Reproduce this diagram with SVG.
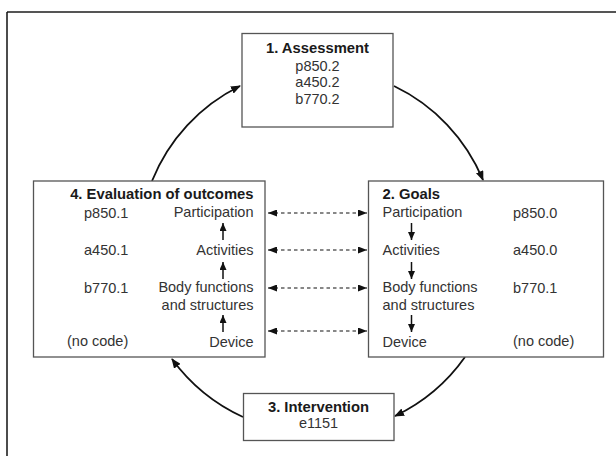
<svg xmlns="http://www.w3.org/2000/svg" width="616" height="456" viewBox="0 0 616 456">
  <style>
    text { font-family: "Liberation Sans", Arial, sans-serif; font-size: 14.5px; fill: #333; }
    .b { font-weight: bold; fill: #1a1a1a; font-size: 14.8px; }
    .mid { text-anchor: middle; }
    .end { text-anchor: end; }
    .box { fill: #fff; stroke: #555; stroke-width: 1.3; }
    .cycle { fill: none; stroke: #111; stroke-width: 1.8; marker-end: url(#head); }
    .link { fill: none; stroke: #111; stroke-width: 1.2; stroke-dasharray: 3.5 3; marker-start: url(#tip); marker-end: url(#tip); }
    .step { fill: none; stroke: #111; stroke-width: 1.5; marker-end: url(#small); }
  </style>
  <defs>
    <marker id="head" viewBox="0 0 10 8" refX="9" refY="4" markerWidth="10" markerHeight="8" markerUnits="userSpaceOnUse" orient="auto">
      <path d="M0,0 L10,4 L0,8 Z" fill="#111"/>
    </marker>
    <marker id="tip" viewBox="0 0 9 7" refX="9" refY="3.5" markerWidth="9" markerHeight="7" markerUnits="userSpaceOnUse" orient="auto-start-reverse">
      <path d="M0,0 L9,3.5 L0,7 Z" fill="#111"/>
    </marker>
    <marker id="small" viewBox="0 0 8 7" refX="8" refY="3.5" markerWidth="8" markerHeight="7" markerUnits="userSpaceOnUse" orient="auto">
      <path d="M0,0 L8,3.5 L0,7 Z" fill="#111"/>
    </marker>
  </defs>

  <!-- frame edges -->
  <line x1="7" y1="12" x2="616" y2="12" stroke="#555" stroke-width="2"/>
  <line x1="7" y1="12" x2="7" y2="456" stroke="#111" stroke-width="1.5"/>

  <!-- cycle and dashed links -->
  <g id="connectors">
    <path class="cycle" d="M152,181 A181,181 0 0 1 240,86"/>
    <path class="cycle" d="M394,86 A181,181 0 0 1 483,180"/>
    <path class="cycle" d="M465,357 A181,181 0 0 1 395,416"/>
    <path class="cycle" d="M243,417 A181,181 0 0 1 172,359"/>

    <line class="link" x1="268" y1="213" x2="367" y2="213"/>
    <line class="link" x1="268" y1="250" x2="367" y2="250"/>
    <line class="link" x1="268" y1="288" x2="367" y2="288"/>
    <line class="link" x1="268" y1="331" x2="367" y2="331"/>
  </g>

  <g id="assessment">
    <rect class="box" x="242" y="33.5" width="151" height="93.5"/>
    <text class="b mid" x="317.5" y="53">1. Assessment</text>
    <text class="mid" x="317.5" y="70.5">p850.2</text>
    <text class="mid" x="317.5" y="87">a450.2</text>
    <text class="mid" x="317.5" y="103.5">b770.2</text>
  </g>

  <g id="goals">
    <rect class="box" x="368.5" y="181" width="235" height="176"/>
    <text class="b" x="382.5" y="199">2. Goals</text>
    <text x="382.5" y="217">Participation</text>
    <text x="382.5" y="254.5">Activities</text>
    <text x="382.5" y="292">Body functions</text>
    <text x="382.5" y="309.5">and structures</text>
    <text x="382.5" y="347">Device</text>
    <text x="513" y="218">p850.0</text>
    <text x="513" y="255">a450.0</text>
    <text x="513" y="292.5">b770.1</text>
    <text x="513" y="346">(no code)</text>
    <line class="step" x1="411.5" y1="223" x2="411.5" y2="240"/>
    <line class="step" x1="411.5" y1="262" x2="411.5" y2="279"/>
    <line class="step" x1="411.5" y1="315" x2="411.5" y2="332"/>
  </g>

  <g id="intervention">
    <rect class="box" x="243.5" y="393.5" width="150.5" height="47"/>
    <text class="b mid" x="318.5" y="412">3. Intervention</text>
    <text class="mid" x="318.5" y="427.5">e1151</text>
  </g>

  <g id="evaluation">
    <rect class="box" x="33.5" y="181" width="231.5" height="176"/>
    <text class="b end" x="253.5" y="199">4. Evaluation of outcomes</text>
    <text class="end" x="253.5" y="217">Participation</text>
    <text class="end" x="253.5" y="254.5">Activities</text>
    <text class="end" x="253.5" y="292">Body functions</text>
    <text class="end" x="253.5" y="309.5">and structures</text>
    <text class="end" x="253.5" y="347">Device</text>
    <text x="84" y="218">p850.1</text>
    <text x="84" y="255">a450.1</text>
    <text x="84" y="292.5">b770.1</text>
    <text x="67" y="346">(no code)</text>
    <line class="step" x1="223" y1="240" x2="223" y2="223"/>
    <line class="step" x1="223" y1="279" x2="223" y2="262"/>
    <line class="step" x1="223" y1="332" x2="223" y2="315"/>
  </g>
</svg>
